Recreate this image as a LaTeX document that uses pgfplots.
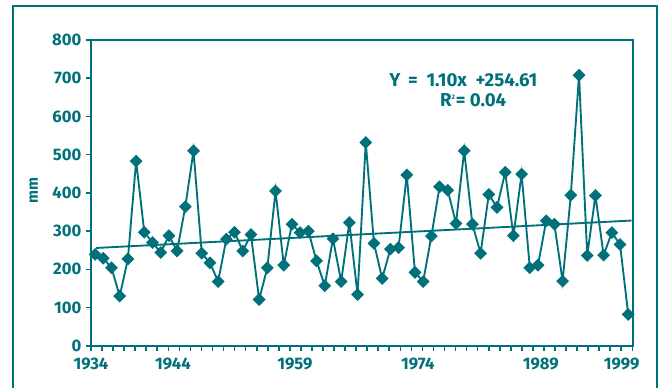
\documentclass[border=0pt]{standalone}
\usepackage{fontspec}
\setmainfont{Fira Sans}
\usepackage{pgfplots}
\pgfplotsset{compat=1.18}
\definecolor{teal1}{HTML}{00707A}
\begin{document}
\begin{tikzpicture}
\useasboundingbox (0pt,0pt) rectangle (495pt,-290.25pt);
\draw[teal1, line width=1.5pt] (9.75pt,-292pt) -- (9.75pt,-4.5pt) -- (492.5pt,-4.5pt) -- (492.5pt,-292pt);
\begin{axis}[
  at={(68.25pt,-259.3pt)}, anchor=south west,
  scale only axis, width=406.3pt, height=229.3pt,
  xmin=1933.5, xmax=1999.55, ymin=0, ymax=800,
  axis line style={teal1, line width=1.5pt},
  ytick={0,100,...,800},
  xtick={1933.5,1934.8469,...,1999.6},
  xticklabels={},
  extra x ticks={1933.5,1943.49,1958.36,1973.34,1988.33,1998.2},
  extra x tick labels={1934,1944,1959,1974,1989,1999},
  extra x tick style={major tick length=0pt},
  xticklabel style={yshift=-5.5pt},
  tick align=outside,
  major tick length=3.75pt,
  xtick pos=left, ytick pos=left,
  tick style={teal1, line width=1.2pt},
  /pgf/number format/assume math mode=true,
  tick label style={font=\fontsize{12.5}{13}\selectfont\bfseries, text=teal1},
  ylabel={mm},
  ylabel style={at={(axis description cs:-0.106,0.509)}, anchor=center, font=\fontsize{11.5}{12}\selectfont\bfseries, text=teal1},
  clip=false,
]
\addplot[teal1, line width=1.4pt, mark=square*, mark size=2.7pt, mark options={rotate=45, solid, fill=teal1}] table {
x y
1934 239
1935 229
1936 204
1937 130
1938 227
1939 483
1940 297
1941 270
1942 244
1943 288
1944 248
1945 364
1946 510
1947 242
1948 217
1949 168
1950 279
1951 297
1952 248
1953 291
1954 121
1955 204
1956 405
1957 211
1958 318
1959 296
1960 300
1961 222
1962 157
1963 280
1964 168
1965 322
1966 134
1967 532
1968 268
1969 176
1970 253
1971 257
1972 447
1973 192
1974 168
1975 287
1976 416
1977 407
1978 320
1979 510
1980 318
1981 242
1982 396
1983 362
1984 454
1985 288
1986 449
1987 204
1988 211
1989 327
1990 318
1991 169
1992 394
1993 708
1994 236
1995 393
1996 237
1997 296
1998 265
1999 82
};
\addplot[teal1, line width=1.4pt, no marks] coordinates {(1934.1,255.8) (1999.4,327.6)};
\node[text=teal1, font=\fontsize{14}{15}\selectfont\bfseries] at (axis cs:1978.9,695) {Y\,\ =\ \ 1.10x\ \ +254.61};
\node[text=teal1, font=\fontsize{14}{15}\selectfont\bfseries] at (axis cs:1980.1,643) {R\textsuperscript{\tiny 2}=\ 0.04};
\end{axis}
\end{tikzpicture}
\end{document}
